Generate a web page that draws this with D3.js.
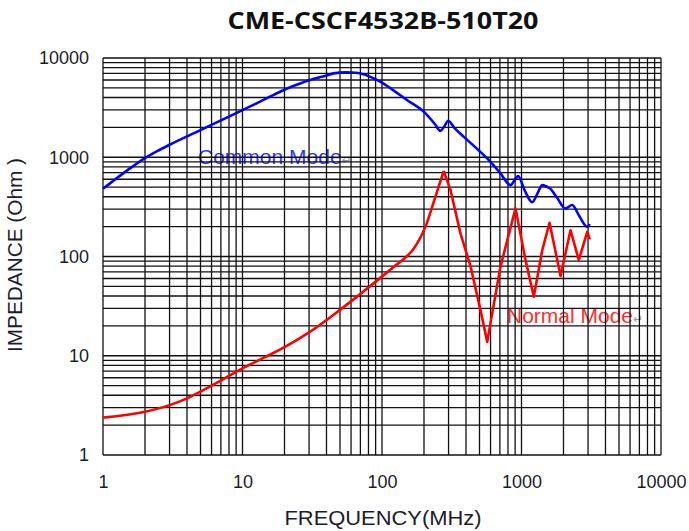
<!DOCTYPE html>
<html>
<head>
<meta charset="utf-8">
<script src="https://cdn.jsdelivr.net/npm/d3@7"></script>
<style>
  body { margin: 0; background: #fff; }
  svg { display: block; }
</style>
</head>
<body>
<div class="container"></div>
<script>
// common mode curve (MHz, Ohm)
const cmFreq = [1, 1.5, 2, 2.5, 3, 5, 7, 10, 15, 20, 25, 30, 40, 45, 55, 65, 75, 85, 100, 120, 150, 200, 240, 262, 280, 298, 330, 386, 470, 568, 700, 834, 900, 947, 1050, 1194, 1300, 1409, 1500, 1614, 1800, 2065, 2307, 2600, 2960, 3090];
const cmZ    = [481, 741, 980, 1170, 1336, 1875, 2350, 2985, 3940, 4790, 5430, 5960, 6680, 7000, 7160, 7100, 6800, 6350, 5650, 4750, 3800, 2865, 2150, 1845, 2050, 2330, 1980, 1604, 1250, 973, 700, 524, 600, 645, 470, 352, 430, 524, 510, 480, 390, 305, 330, 255, 199, 212];

// normal mode curve (MHz, Ohm)
const nmFreq = [1, 2, 3, 4, 5, 7, 10, 15, 20, 30, 50, 87, 120, 150, 165, 180, 205, 235, 277, 310, 365, 431, 508, 568, 706, 906, 1069, 1225, 1409, 1588, 1906, 2245, 2576, 2960, 3090];
const nmZ    = [2.38, 2.73, 3.18, 3.72, 4.35, 5.62, 7.45, 9.9, 12.2, 17.2, 29, 53.6, 77.6, 100, 115, 138, 200, 355, 730, 466, 171, 80, 28.8, 13.8, 78.7, 305, 92, 39.3, 116, 219, 63.5, 184, 92, 177, 149];

const xTickLabels = [1, 10, 100, 1000, 10000];
const yTickLabels = [1, 10, 100, 1000, 10000];

const width = 689, height = 531;
const margin = ({ top: 58, right: 28, bottom: 76, left: 103 });

const x = d3.scaleLog()
    .domain([1, 10000])
    .range([margin.left, width - margin.right]);

const y = d3.scaleLog()
    .domain([1, 10000])
    .range([height - margin.bottom, margin.top]);

const svg = d3.select(".container").append("svg")
    .attr("width", width)
    .attr("height", height)
    .attr("viewBox", [0, 0, width, height]);

// title
svg.append("text")
    .attr("x", 383)
    .attr("y", 29)
    .attr("text-anchor", "middle")
    .attr("font-family", "'Open Sans', sans-serif")
    .attr("font-weight", "bold")
    .attr("font-size", 23)
    .attr("textLength", 311)
    .attr("lengthAdjust", "spacingAndGlyphs")
    .attr("fill", "#111")
    .text("CME-CSCF4532B-510T20");

// series labels sit under the grid
const lab = svg.append("g")
    .attr("font-family", "'Liberation Sans', Arial, sans-serif")
    .attr("font-size", 21);

const cmLabel = lab.append("text").attr("x", 198).attr("y", 164).attr("fill", "#3232ff");
cmLabel.append("tspan").text("Common Mode");
cmLabel.append("tspan").attr("font-size", 12).attr("fill", "#999").attr("font-family", "'DejaVu Sans'").text("\u21B5");

const nmLabel = lab.append("text").attr("x", 507).attr("y", 323).attr("fill", "#ff2e2e");
nmLabel.append("tspan").text("Normal Mode");
nmLabel.append("tspan").attr("font-size", 12).attr("fill", "#999").attr("font-family", "'DejaVu Sans'").text("\u21B5");

// grid
const grid = svg.append("g")
    .attr("stroke", "#111")
    .attr("stroke-width", 1.3);

grid.selectAll(".vx")
    .data(x.ticks())
    .join("line")
    .attr("x1", d => x(d)).attr("x2", d => x(d))
    .attr("y1", y(1)).attr("y2", y(10000));

grid.selectAll(".hy")
    .data(y.ticks())
    .join("line")
    .attr("y1", d => y(d)).attr("y2", d => y(d))
    .attr("x1", x(1)).attr("x2", x(10000));

// axes (labels only)
const yAxis = g => g
    .attr("transform", `translate(${margin.left},0)`)
    .call(d3.axisLeft(y).tickValues(yTickLabels).tickFormat(d3.format("d")).tickSize(0).tickPadding(14))
    .call(g => g.select(".domain").remove());

const xAxis = g => g
    .attr("transform", `translate(0,${height - margin.bottom})`)
    .call(d3.axisBottom(x).tickValues(xTickLabels).tickFormat(d3.format("d")).tickSize(0).tickPadding(20))
    .call(g => g.select(".domain").remove());

svg.append("g").call(yAxis)
    .selectAll("text")
    .attr("font-family", "'Liberation Sans', Arial, sans-serif")
    .attr("font-size", 18)
    .attr("fill", "#1c1c2c");

svg.append("g").call(xAxis)
    .selectAll("text")
    .attr("font-family", "'Liberation Sans', Arial, sans-serif")
    .attr("font-size", 18)
    .attr("fill", "#1c1c2c");

// axis titles
svg.append("text")
    .attr("x", 383)
    .attr("y", 525)
    .attr("text-anchor", "middle")
    .attr("font-family", "'Liberation Sans', Arial, sans-serif")
    .attr("font-size", 20)
    .attr("textLength", 197)
    .attr("lengthAdjust", "spacingAndGlyphs")
    .attr("fill", "#1c1c2c")
    .text("FREQUENCY(MHz)");

svg.append("text")
    .attr("transform", "translate(22,255) rotate(-90)")
    .attr("text-anchor", "middle")
    .attr("font-family", "'Liberation Sans', Arial, sans-serif")
    .attr("font-size", 20)
    .attr("textLength", 194)
    .attr("lengthAdjust", "spacingAndGlyphs")
    .attr("fill", "#1c1c2c")
    .text("IMPEDANCE (Ohm )");

// curves
const smooth = d3.line()
    .x(d => x(d[0]))
    .y(d => y(d[1]))
    .curve(d3.curveMonotoneX);

const sharp = d3.line()
    .x(d => x(d[0]))
    .y(d => y(d[1]))
    .curve(d3.curveLinear);

const cm = cmFreq.map((f, i) => [f, cmZ[i]]);
const nm = nmFreq.map((f, i) => [f, nmZ[i]]);

svg.append("path")
    .attr("d", smooth(cm))
    .attr("fill", "none")
    .attr("stroke", "#0000ff")
    .attr("stroke-width", 2.6)
    .attr("stroke-linejoin", "round");

// red: smooth rise up to the first resonance, sharp ringing after it
const iPeak = d3.maxIndex(nmZ);
const nmRed = svg.append("g")
    .attr("fill", "none")
    .attr("stroke", "#ff0000")
    .attr("stroke-width", 2.6)
    .attr("stroke-linejoin", "round");

nmRed.append("path").attr("d", smooth(nm.slice(0, iPeak + 1)));
nmRed.append("path").attr("d", sharp(nm.slice(iPeak)));
</script>
</body>
</html>
